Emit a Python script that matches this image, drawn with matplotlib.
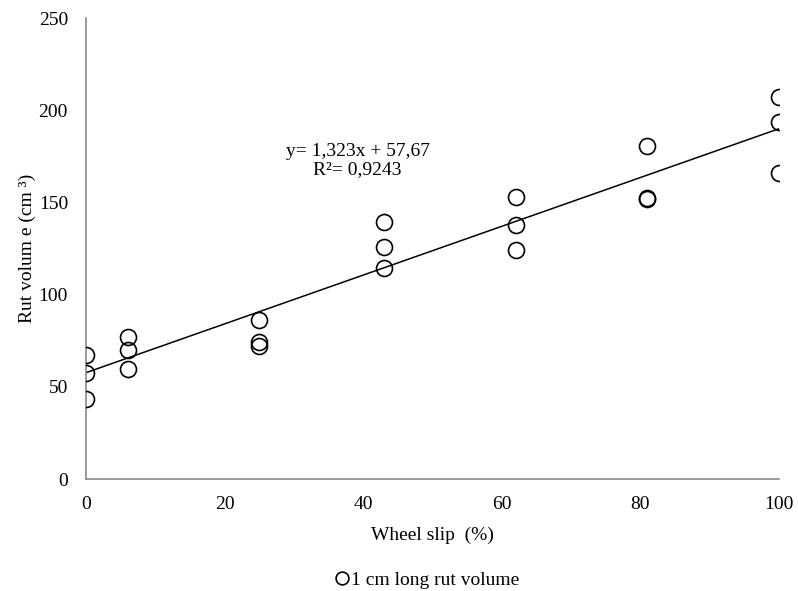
import matplotlib
matplotlib.use('Agg')
import matplotlib.pyplot as plt
import numpy as np

plt.rcParams['font.family'] = ['Liberation Serif', 'DejaVu Serif']

# valeurs
slip = [0, 0, 0, 6, 6, 6, 25, 25, 25, 43, 43, 43, 62, 62, 62, 81, 81, 81, 100, 100, 100]
rut_volume = [67.2, 57.5, 43.4, 77.0, 70.0, 59.7, 86.2, 74.3, 72.1,
              139.4, 125.8, 114.4, 152.9, 137.7, 124.2, 180.6, 152.4, 151.8,
              207.2, 193.6, 166.0]
slope = 1.323
intercept = 57.67
r2 = 0.9243

fig = plt.figure(figsize=(7.98, 5.91), dpi=100)
ax = fig.add_axes([0.1078, 0.1895, 0.8684, 0.780])

ax.plot(slip, rut_volume, 'o', markersize=11.5, markerfacecolor='none',
        markeredgecolor='black', markeredgewidth=1.2, label='1 cm long rut volume',
        zorder=3)

# droite de tendance
x_line = np.array([min(slip), max(slip)])
ax.plot(x_line, slope * x_line + intercept, color='black', linewidth=1.1, zorder=2)

ax.set_xlim(0, 100)
ax.set_ylim(0, 250)
ax.set_xticks(range(0, 101, 20))
ax.set_yticks(range(0, 251, 50))
ax.tick_params(length=0, labelsize=14)
ax.tick_params(axis='y', pad=13)
ax.tick_params(axis='x', pad=12)

for s in ['top', 'right']:
    ax.spines[s].set_visible(False)
for s in ['left', 'bottom']:
    ax.spines[s].set_color('#7f7f7f')
    ax.spines[s].set_linewidth(1.1)

ax.set_xlabel('Wheel slip  (%)', fontsize=14, labelpad=10)
ax.set_ylabel('Rut volum e (cm ³)', fontsize=14, labelpad=2)

eq = 'y= {:.3f}x + {:.2f}'.format(slope, intercept).replace('.', ',')
ax.text(39.2, 172.7, eq + '\nR²= ' + str(r2).replace('.', ','), fontsize=14,
        ha='center', va='center', linespacing=1.1)

fig.legend(loc='center', bbox_to_anchor=(0.536, 0.019), frameon=False,
           fontsize=14, handlelength=0.6, handletextpad=0.15, markerscale=0.8)

fig.savefig('out.png', dpi=100)
